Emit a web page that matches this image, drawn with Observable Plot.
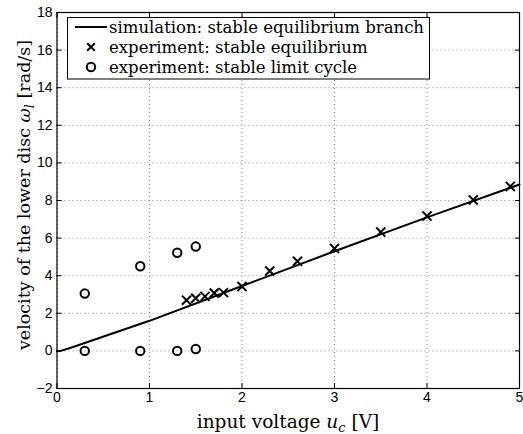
<!DOCTYPE html>
<html>
<head>
<meta charset="utf-8">
<script src="https://cdn.jsdelivr.net/npm/d3@7"></script>
<script src="https://cdn.jsdelivr.net/npm/@observablehq/plot@0.6"></script>
<style>
  html, body { margin: 0; padding: 0; background: #fff; }
  #chart { width: 523px; height: 434px; }
</style>
</head>
<body>
<div id="chart"></div>
<script>
// ---- data ----
const simU = [0, 0.04, 0.15, 0.3, 1, 2, 3, 4, 5];
const simW = [0, 0.0, 0.17, 0.42, 1.6, 3.45, 5.3, 7.1, 8.85];

const eqU = [1.4, 1.5, 1.6, 1.7, 1.8, 2.0, 2.3, 2.6, 3.0, 3.5, 4.0, 4.5, 4.9];
const eqW = [2.7, 2.8, 2.9, 3.08, 3.1, 3.42, 4.25, 4.77, 5.45, 6.32, 7.17, 8.03, 8.75];

const lcU = [0.3, 0.3, 0.9, 0.9, 1.3, 1.3, 1.5, 1.5];
const lcW = [3.05, 0, 4.5, 0, 5.22, 0, 5.55, 0.1];

const xTicks = [0, 1, 2, 3, 4, 5];
const yTicks = [-2, 0, 2, 4, 6, 8, 10, 12, 14, 16, 18];

const legendLabels = [
  "simulation: stable equilibrium branch",
  "experiment: stable equilibrium",
  "experiment: stable limit cycle"
];

const sim = simU.map((u, i) => ({u, w: simW[i]}));
const eq = eqU.map((u, i) => ({u, w: eqW[i]}));
const lc = lcU.map((u, i) => ({u, w: lcW[i]}));

const serif = "'DejaVu Serif', 'Liberation Serif', serif";
const fs = "16.5px";

const plot = Plot.plot({
  width: 523,
  height: 434,
  marginLeft: 56.5,
  marginRight: 4,
  marginTop: 12,
  marginBottom: 46,
  style: {fontFamily: "'Liberation Sans', Arial, sans-serif", fontSize: "14px", color: "black", background: "white"},
  x: {domain: [0, 5]},
  y: {domain: [-2, 18]},
  marks: [
    Plot.gridX(xTicks, {stroke: "#888", strokeOpacity: 1, strokeDasharray: "1,3"}),
    Plot.gridY(yTicks, {stroke: "#888", strokeOpacity: 1, strokeDasharray: "1,3"}),
    Plot.line(sim, {x: "u", y: "w", stroke: "black", strokeWidth: 2}),
    Plot.dot(eq, {x: "u", y: "w", symbol: "times", r: 4.2, stroke: "black", strokeWidth: 2}),
    Plot.dot(lc, {x: "u", y: "w", symbol: "circle", r: 4.2, stroke: "black", strokeWidth: 2, fill: "none"}),
    Plot.frame({stroke: "black", strokeWidth: 1.2}),
    Plot.axisX(xTicks, {anchor: "bottom", tickSize: -5, tickPadding: 9, label: null, tickFormat: d => String(d)}),
    Plot.axisX(xTicks, {anchor: "top", tickSize: -5, label: null, tickFormat: () => ""}),
    Plot.axisY(yTicks, {anchor: "left", tickSize: -5, tickPadding: 9.5, label: null, tickFormat: d => d < 0 ? "\u2212" + Math.abs(d) : String(d)}),
    Plot.axisY(yTicks, {anchor: "right", tickSize: -5, label: null, tickFormat: () => ""})
  ]
});

document.getElementById("chart").appendChild(plot);

const svg = d3.select(plot);

// x-axis label
const xl = svg.append("text")
  .attr("x", 288).attr("y", 428)
  .attr("text-anchor", "middle")
  .style("font-family", serif).style("font-size", "18.5px").attr("fill", "black");
xl.append("tspan").text("input voltage ");
xl.append("tspan").style("font-style", "italic").text("u");
xl.append("tspan").style("font-style", "italic").style("font-size", "13px").attr("dy", 4).text("c");
xl.append("tspan").attr("dy", -4).text(" [V]");

// y-axis label
const yl = svg.append("text")
  .attr("transform", "translate(30,195) rotate(-90)")
  .attr("text-anchor", "middle")
  .style("font-family", serif).style("font-size", "17.5px").attr("fill", "black");
yl.append("tspan").text("velocity of the lower disc ");
yl.append("tspan").style("font-style", "italic").text("\u03C9");
yl.append("tspan").style("font-style", "italic").style("font-size", "13px").attr("dy", 4).text("l");
yl.append("tspan").attr("dy", -4).text(" [rad/s]");

// legend
const lg = svg.append("g");
lg.append("rect").attr("x", 67.5).attr("y", 17.5).attr("width", 362).attr("height", 61.5)
  .attr("fill", "white").attr("stroke", "black").attr("stroke-width", 1);
const rowsY = [27, 47, 67];
lg.append("line").attr("x1", 75).attr("x2", 107).attr("y1", rowsY[0]).attr("y2", rowsY[0])
  .attr("stroke", "black").attr("stroke-width", 2);
lg.append("path").attr("d", d3.symbol(d3.symbolTimes, 40)()).attr("transform", `translate(91,${rowsY[1]})`)
  .attr("fill", "none").attr("stroke", "black").attr("stroke-width", 2);
lg.append("circle").attr("cx", 91).attr("cy", rowsY[2]).attr("r", 4.2)
  .attr("fill", "none").attr("stroke", "black").attr("stroke-width", 2);
legendLabels.forEach((t, i) => {
  lg.append("text").attr("x", 109).attr("y", rowsY[i] + 6)
    .attr("text-anchor", "start")
    .style("font-family", serif).style("font-size", fs).attr("fill", "black").text(t);
});
</script>
</body>
</html>
